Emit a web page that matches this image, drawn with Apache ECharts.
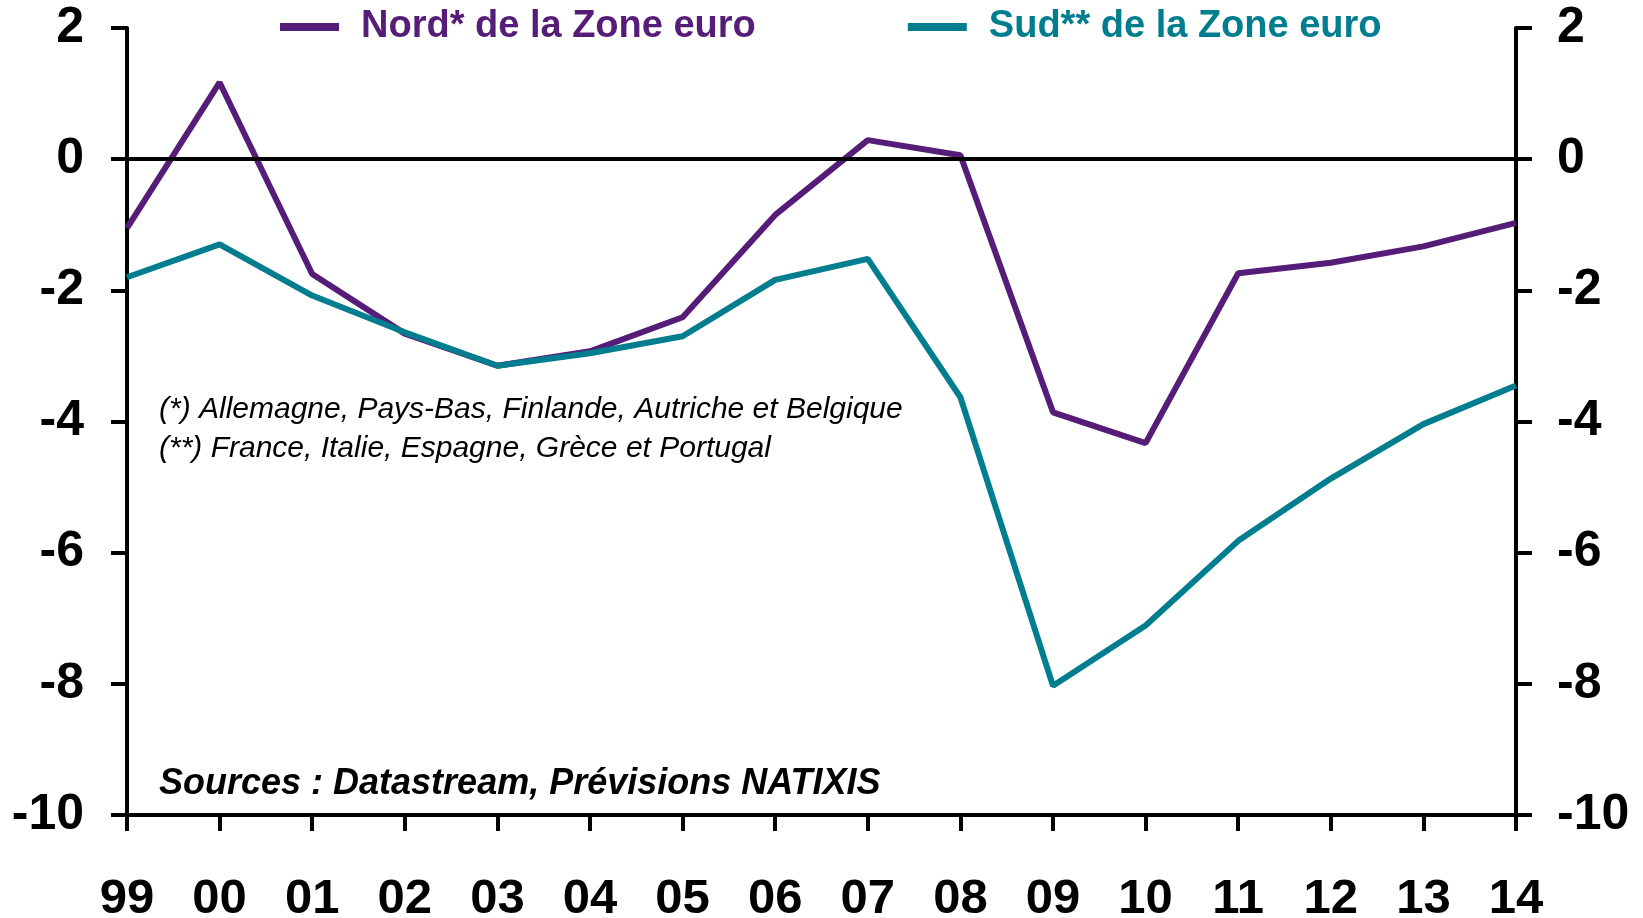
<!DOCTYPE html>
<html>
<head>
<meta charset="utf-8">
<script src="https://cdn.jsdelivr.net/npm/echarts@6/dist/echarts.min.js"></script>
<style>
html,body{margin:0;padding:0;background:#fff;}
#chart{width:1643px;height:918px;}
</style>
</head>
<body>
<div id="chart"></div>
<script>
var years = ['99','00','01','02','03','04','05','06','07','08','09','10','11','12','13','14'];
var nord = [-1.05, 1.17, -1.75, -2.66, -3.15, -2.93, -2.41, -0.85, 0.29, 0.06, -3.86, -4.33, -1.74, -1.58, -1.33, -0.97];
var sud = [-1.80, -1.30, -2.08, -2.64, -3.15, -2.96, -2.70, -1.84, -1.52, -3.63, -8.03, -7.11, -5.82, -4.87, -4.04, -3.45];
var yTicks = { min: -10, max: 2, interval: 2 };
var nordName = 'Nord* de la Zone euro';
var sudName = 'Sud** de la Zone euro';
var note1 = '(*) Allemagne, Pays-Bas, Finlande, Autriche et Belgique';
var note2 = '(**) France, Italie, Espagne, Grèce et Portugal';
var source = 'Sources : Datastream, Prévisions NATIXIS';

var purple = '#561D78';
var teal = '#007E8F';
var font = '"Liberation Sans", Arial, sans-serif';

var chart = echarts.init(document.getElementById('chart'), null, {renderer: 'canvas'});

function yAxis(pos, margin) {
  return {
    type: 'value',
    position: pos,
    min: yTicks.min, max: yTicks.max, interval: yTicks.interval,
    axisLine: {show: true, onZero: false, lineStyle: {color: '#000', width: 4}},
    axisTick: {show: true, inside: false, length: 16, lineStyle: {color: '#000', width: 4}},
    splitLine: {show: false},
    axisLabel: {color: '#000', fontFamily: font, fontWeight: 'bold', fontSize: 50, margin: margin}
  };
}

chart.setOption({
  animation: false,
  grid: {left: 127, right: 127, top: 28, bottom: 103, containLabel: false, outerBoundsMode: 'none'},
  legend: {
    top: 3, left: 275,
    itemWidth: 59, itemHeight: 8, itemGap: 152,
    icon: 'rect',
    data: [
      {name: nordName, textStyle: {color: purple}},
      {name: sudName, textStyle: {color: teal}}
    ],
    textStyle: {fontFamily: font, fontWeight: 'bold', fontSize: 38, padding: [0, 0, 0, 17]}
  },
  xAxis: {
    type: 'category', data: years, boundaryGap: false,
    axisLine: {show: true, onZero: false, lineStyle: {color: '#000', width: 4}},
    axisTick: {show: true, inside: false, length: 16, interval: 0, lineStyle: {color: '#000', width: 4}},
    axisLabel: {color: '#000', fontFamily: font, fontWeight: 'bold', fontSize: 49, margin: 60, interval: 0},
    splitLine: {show: false}
  },
  yAxis: [yAxis('left', 43), yAxis('right', 41)],
  series: [
    {
      name: 'zero', type: 'line', data: [], z: 1, silent: true,
      markLine: {
        silent: true, symbol: 'none', label: {show: false},
        lineStyle: {color: '#000', width: 4, type: 'solid'},
        data: [{yAxis: 0}]
      }
    },
    {
      name: nordName, type: 'line', data: nord, showSymbol: false, symbol: 'none',
      lineStyle: {color: purple, width: 6}, itemStyle: {color: purple}, z: 3
    },
    {
      name: sudName, type: 'line', data: sud, showSymbol: false, symbol: 'none',
      lineStyle: {color: teal, width: 6}, itemStyle: {color: teal}, z: 4
    }
  ],
  graphic: [
    {type: 'text', left: 159, top: 395, style: {text: note1, font: 'italic 30px ' + font, fill: '#000'}},
    {type: 'text', left: 159, top: 434, style: {text: note2, font: 'italic 30px ' + font, fill: '#000'}},
    {type: 'text', left: 159, top: 766, style: {text: source, font: 'italic bold 36px ' + font, fill: '#000'}}
  ]
});
</script>
</body>
</html>
